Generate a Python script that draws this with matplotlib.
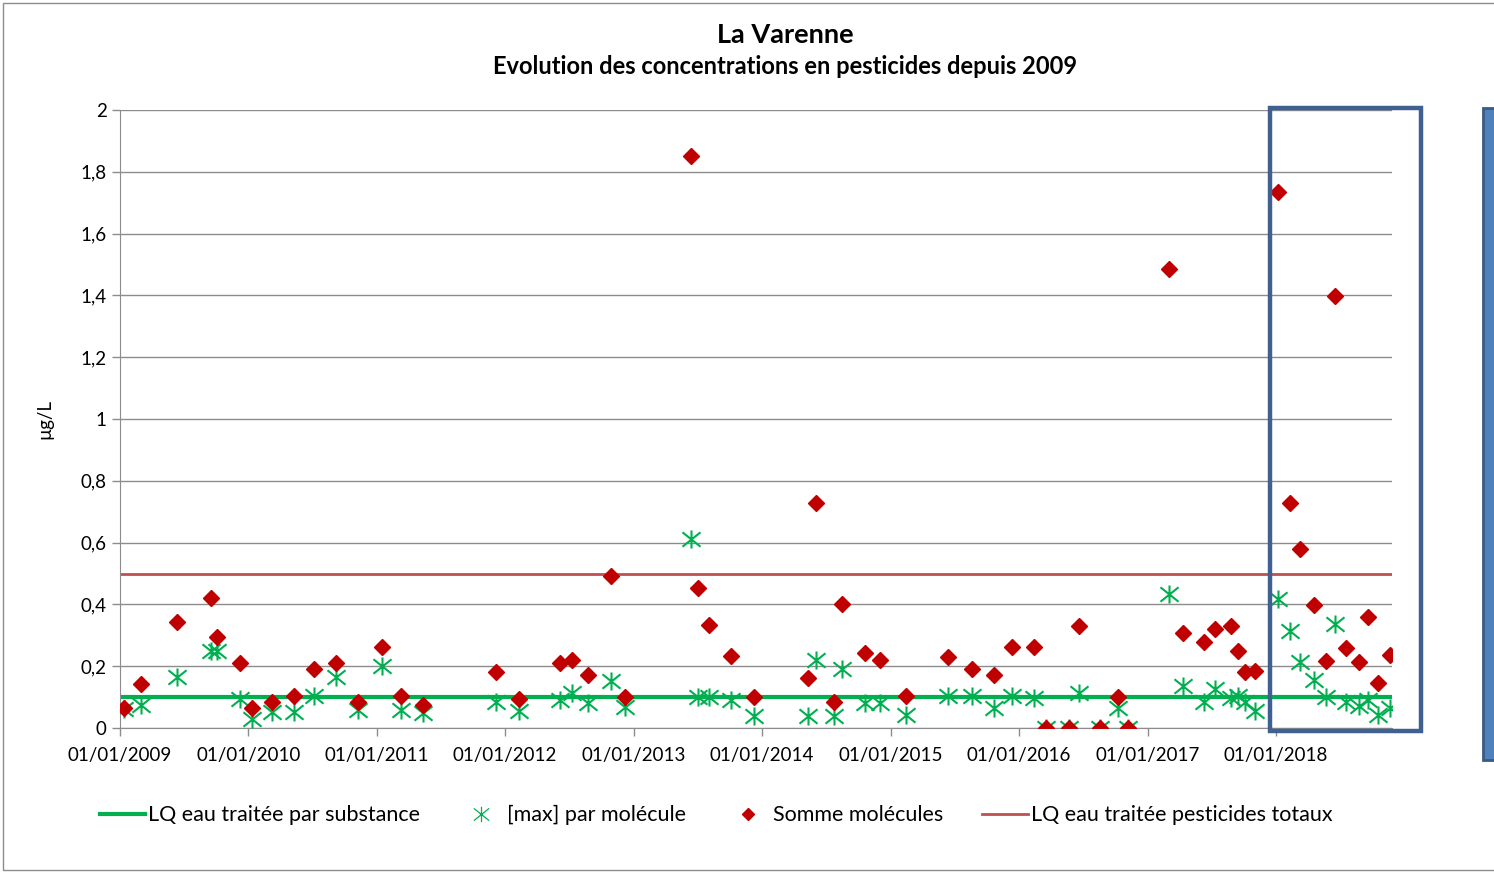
import numpy as np
import pandas as pd
import matplotlib
matplotlib.use("Agg")
import matplotlib.pyplot as plt
import matplotlib.patches as patches
import matplotlib.dates as mdates
from matplotlib.lines import Line2D
from matplotlib.path import Path
from matplotlib.ticker import FuncFormatter

plt.rcParams["font.family"] = ["Lato", "DejaVu Sans"]

# sampling dates
sample_dates = [
    "2009-01-12", "2009-03-03", "2009-06-13", "2009-09-16", "2009-10-04", "2009-12-09",
    "2010-01-12", "2010-03-08", "2010-05-12", "2010-07-06", "2010-09-06", "2010-11-10",
    "2011-01-15", "2011-03-11", "2011-05-12", "2011-12-05",
    "2012-02-09", "2012-06-06", "2012-07-09", "2012-08-25", "2012-10-27", "2012-12-06",
    "2013-06-13", "2013-07-02", "2013-08-04", "2013-10-05", "2013-12-10",
    "2014-05-12", "2014-06-03", "2014-07-24", "2014-08-15", "2014-10-20", "2014-12-03",
    "2015-02-14", "2015-06-13", "2015-08-22", "2015-10-23", "2015-12-13",
    "2016-02-14", "2016-03-18", "2016-05-22", "2016-06-21", "2016-08-18", "2016-10-08",
    "2016-11-06",
    "2017-03-02", "2017-04-13", "2017-06-10", "2017-07-13", "2017-08-25", "2017-09-16",
    "2017-10-04", "2017-11-02",
    "2018-01-08", "2018-02-10", "2018-03-11", "2018-04-20", "2018-05-23", "2018-06-18",
    "2018-07-20", "2018-08-25", "2018-09-20", "2018-10-19", "2018-11-21",
]

# [max] par molécule
max_molecule = [
    0.06, 0.074, 0.164, 0.25, 0.25, 0.093,
    0.029, 0.053, 0.053, 0.104, 0.164, 0.058,
    0.2, 0.058, 0.047, 0.085,
    0.055, 0.091, 0.114, 0.082, 0.152, 0.069,
    0.612, 0.101, 0.101, 0.091, 0.039,
    0.039, 0.22, 0.039, 0.191, 0.082, 0.082,
    0.042, 0.104, 0.104, 0.064, 0.104,
    0.096, 0.0, 0.0, 0.112, 0.0, 0.064,
    0.0,
    0.433, 0.135, 0.083, 0.127, 0.097, 0.102,
    0.083, 0.056,
    0.416, 0.315, 0.214, 0.154, 0.1, 0.335,
    0.083, 0.072, 0.089, 0.042, 0.065,
]

# Somme molécules
somme_molecules = [
    0.064, 0.142, 0.343, 0.422, 0.293, 0.211,
    0.064, 0.083, 0.104, 0.191, 0.211, 0.083,
    0.261, 0.104, 0.073, 0.181,
    0.093, 0.211, 0.22, 0.173, 0.492, 0.101,
    1.851, 0.452, 0.332, 0.232, 0.101,
    0.163, 0.729, 0.084, 0.401, 0.242, 0.22,
    0.103, 0.231, 0.192, 0.172, 0.261,
    0.261, 0.0, 0.0, 0.33, 0.0, 0.101,
    0.0,
    1.485, 0.307, 0.279, 0.32, 0.33, 0.248,
    0.181, 0.184,
    1.734, 0.729, 0.579, 0.399, 0.218, 1.399,
    0.26, 0.215, 0.358, 0.146, 0.236,
]

lq_dates = ["2009-01-01", "2018-11-27"]
lq_substance = [0.1, 0.1]
lq_total = [0.5, 0.5]

year_ticks = [f"{y}-01-01" for y in range(2009, 2019)]

# excel-like asterisk: vertical bar plus an X
star = Path([(0, -1), (0, 1), (-1, -0.8), (1, 0.8), (-1, 0.8), (1, -0.8)],
            [Path.MOVETO, Path.LINETO] * 3)

W, H = 1494, 874
fig = plt.figure(figsize=(W / 100, H / 100), dpi=100)
ax = fig.add_axes([120 / W, 1 - 728 / H, (1392 - 120) / W, (728 - 110) / H])

d = pd.to_datetime(sample_dates)
ld = pd.to_datetime(lq_dates)

ax.plot(ld, lq_substance, color="#00b050", lw=3.0, solid_capstyle="butt", zorder=2)
ax.plot(ld, lq_total, color="#c0504d", lw=2, solid_capstyle="butt", zorder=2)
ax.plot(d, max_molecule, ls="none", marker=star, ms=13, mew=1.5,
        color="#00b050", zorder=3)
ax.plot(d, somme_molecules, ls="none", marker="D", ms=8, color="#c00000",
        mec="#c00000", zorder=4)

ax.set_xlim(pd.Timestamp("2009-01-01"), pd.Timestamp("2018-11-27"))
ax.set_ylim(0, 2)
ax.set_yticks(np.arange(0, 2.01, 0.2))
ax.yaxis.set_major_formatter(FuncFormatter(lambda v, p: f"{v:.1f}".rstrip("0").rstrip(".").replace(".", ",")))
ax.set_xticks(pd.to_datetime(year_ticks))
ax.xaxis.set_major_formatter(mdates.DateFormatter("%d/%m/%Y"))

ax.grid(axis="y", color="#8c8c8c", lw=1)
ax.set_axisbelow(True)
for s in ["top", "right"]:
    ax.spines[s].set_visible(False)
for s in ["left", "bottom"]:
    ax.spines[s].set_color("#8c8c8c")
ax.tick_params(axis="both", colors="#8c8c8c", labelcolor="black", labelsize=13.5,
               length=6, width=1)
ax.tick_params(axis="x", pad=8)
ax.set_ylabel("µg/L", fontsize=13.5, labelpad=20)

fig.text(785 / W, 1 - 35 / H, "La Varenne", ha="center", va="center",
         fontsize=19.5, fontweight="bold")
fig.text(785 / W, 1 - 67 / H, "Evolution des concentrations en pesticides depuis 2009",
         ha="center", va="center", fontsize=17, fontweight="bold")

handles = [
    Line2D([], [], color="#00b050", lw=3.0),
    Line2D([], [], ls="none", marker=star, ms=11, mew=0.9, color="#00b050"),
    Line2D([], [], ls="none", marker="D", ms=6, color="#c00000"),
    Line2D([], [], color="#c0504d", lw=2),
]
labels = ["LQ eau traitée par substance", "[max] par molécule",
          "Somme molécules", "LQ eau traitée pesticides totaux"]
fig.legend(handles, labels, loc="center", bbox_to_anchor=(716 / W, 1 - 815 / H),
           ncol=4, frameon=False, fontsize=15.5, handlelength=2.1, handletextpad=0.15,
           columnspacing=1.8)

# highlight box around 2018
fig.patches.append(patches.Rectangle((1270 / W, 1 - 731 / H), 151 / W, 623 / H,
                                     fill=False, edgecolor="#3f6090", lw=3.2,
                                     transform=fig.transFigure, figure=fig))
# edge of neighbouring shape on the right
fig.patches.append(patches.Rectangle((1483 / W, 1 - 760 / H), 30 / W, 652 / H,
                                     facecolor="#4f81bd", edgecolor="#3b5a85", lw=2,
                                     transform=fig.transFigure, figure=fig))
# chart border
fig.patches.append(patches.Rectangle((3 / W, 4 / H), 1.2, 1 - 7 / H,
                                     fill=False, edgecolor="#8c8c8c", lw=1,
                                     transform=fig.transFigure, figure=fig))

fig.savefig("out.png", dpi=100)
